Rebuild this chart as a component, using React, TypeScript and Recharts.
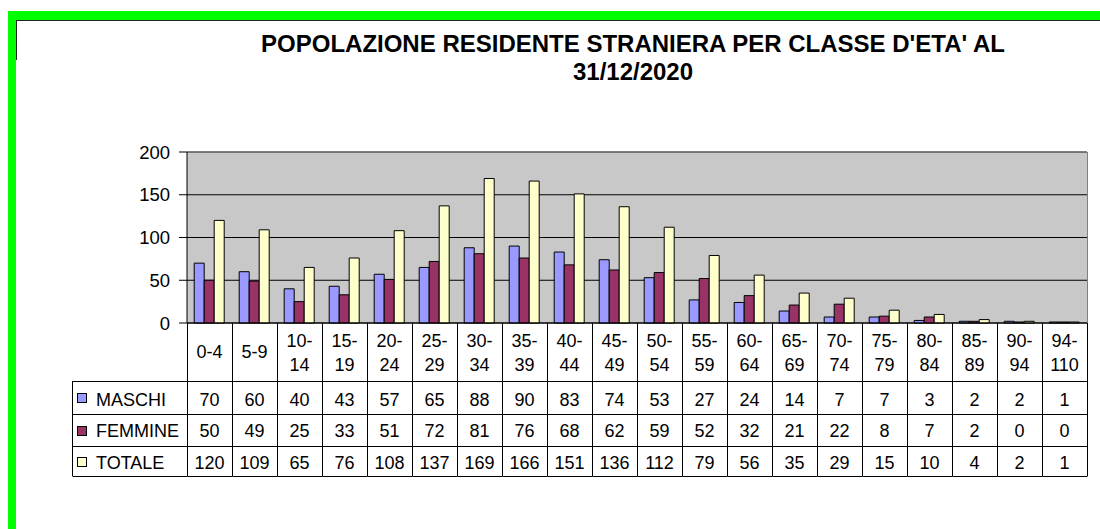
import React from 'react';
import { BarChart, Bar, XAxis, YAxis, CartesianGrid, ReferenceLine } from 'recharts';

// ---- data ----
const categories = ['0-4', '5-9', '10-14', '15-19', '20-24', '25-29', '30-34', '35-39', '40-44', '45-49', '50-54', '55-59', '60-64', '65-69', '70-74', '75-79', '80-84', '85-89', '90-94', '94-110'];
const maschi = [70, 60, 40, 43, 57, 65, 88, 90, 83, 74, 53, 27, 24, 14, 7, 7, 3, 2, 2, 1];
const femmine = [50, 49, 25, 33, 51, 72, 81, 76, 68, 62, 59, 52, 32, 21, 22, 8, 7, 2, 0, 0];
const totale = [120, 109, 65, 76, 108, 137, 169, 166, 151, 136, 112, 79, 56, 35, 29, 15, 10, 4, 2, 1];
const seriesNames = ['MASCHI', 'FEMMINE', 'TOTALE'];
const seriesValues = [maschi, femmine, totale];
const seriesColors = ['#9999FF', '#993366', '#FFFFCC'];
const yTicks = [0, 50, 100, 150, 200];
const titleLines = ["POPOLAZIONE RESIDENTE STRANIERA PER CLASSE D'ETA' AL", '31/12/2020'];

const data = categories.map((c, i) => ({
  cat: c,
  MASCHI: maschi[i],
  FEMMINE: femmine[i],
  TOTALE: totale[i],
}));

// ---- layout ----
const FONT = '"Liberation Sans", Arial, Helvetica, sans-serif';
const W = 1100;
const H = 529;
const PLOT_LEFT = 187;
const PLOT_RIGHT = 1087;
const PLOT_TOP = 152;
const PLOT_BOTTOM = 323;
const TABLE_LEFT = 72;
const ROW_BOTTOMS = [58, 91, 123, 153]; // relative to table top
const ROW_BASELINES = [83, 114, 146];
const TABLE_H = 153;
const Y_AXIS_W = 60;
const bandW = (PLOT_RIGHT - PLOT_LEFT) / categories.length;
const LINE = '#000';
const TXT = 18;

function TableTick(props: any) {
  const { x, y, payload } = props;
  const index: number = props.index ?? payload.index ?? 0;
  const left = Math.round(x - bandW / 2) + 0.5;
  const right = Math.round(x + bandW / 2) + 0.5;
  const label = String(payload.value);
  let lines: string[] = [label];
  if (label.length > 3) {
    const p = label.indexOf('-');
    lines = [label.slice(0, p + 1), label.slice(p + 1)];
  }
  const top = Math.round(y);
  const els: React.ReactNode[] = [];
  els.push(<line key="vr" x1={right} x2={right} y1={top} y2={top + TABLE_H} stroke={LINE} strokeWidth={1} />);
  if (index === 0) {
    els.push(<line key="vl" x1={left} x2={left} y1={top} y2={top + TABLE_H} stroke={LINE} strokeWidth={1} />);
    const lx = TABLE_LEFT + 0.5;
    els.push(<line key="ll" x1={lx} x2={lx} y1={top + ROW_BOTTOMS[0]} y2={top + TABLE_H} stroke={LINE} strokeWidth={1} />);
    ROW_BOTTOMS.forEach((rb, k) => {
      els.push(<line key={'lh' + k} x1={lx} x2={left} y1={top + rb + 0.5} y2={top + rb + 0.5} stroke={LINE} strokeWidth={1} />);
    });
    seriesNames.forEach((n, k) => {
      const rowTop = top + ROW_BOTTOMS[k];
      const rowBot = top + ROW_BOTTOMS[k + 1];
      const cy = (rowTop + rowBot) / 2;
      els.push(<rect key={'sq' + k} x={77.5} y={Math.round(cy - 4.5) + 0.5} width={9} height={9} fill={seriesColors[k]} stroke="#000" strokeWidth={1} />);
      els.push(
        <text key={'ln' + k} x={96} y={top + ROW_BASELINES[k]} fontSize={TXT} fontFamily={FONT} fill="#000">
          {n}
        </text>
      );
    });
  }
  if (index === categories.length - 1) {
    els.push(<line key="pr" x1={right} x2={right} y1={PLOT_TOP} y2={top} stroke="#808080" strokeWidth={1} />);
  }
  ROW_BOTTOMS.forEach((rb, k) => {
    els.push(<line key={'h' + k} x1={left} x2={right} y1={top + rb + 0.5} y2={top + rb + 0.5} stroke={LINE} strokeWidth={1} />);
  });
  if (lines.length === 1) {
    els.push(
      <text key="c0" x={x} y={top + 35} textAnchor="middle" fontSize={TXT} fontFamily={FONT} fill="#000">
        {lines[0]}
      </text>
    );
  } else {
    lines.forEach((t, k) => {
      els.push(
        <text key={'c' + k} x={x} y={top + 24 + k * 24} textAnchor="middle" fontSize={TXT} fontFamily={FONT} fill="#000">
          {t}
        </text>
      );
    });
  }
  seriesValues.forEach((vals, k) => {
    els.push(
      <text key={'v' + k} x={x} y={top + ROW_BASELINES[k]} textAnchor="middle" fontSize={TXT} fontFamily={FONT} fill="#000">
        {vals[index]}
      </text>
    );
  });
  return <g>{els}</g>;
}

export default function App() {
  return (
    <div style={{ position: 'relative', width: W, height: H, overflow: 'hidden', background: '#fff', fontFamily: FONT }}>
      <style>{`body{margin:0;overflow:hidden;}`}</style>
      <div style={{ position: 'absolute', left: 8, top: 11, width: W - 8, height: 9, background: '#00FF00' }} />
      <div style={{ position: 'absolute', left: 8, top: 11, width: 8, height: H - 11, background: '#00FF00' }} />
      <div style={{ position: 'absolute', left: 16, top: 20, width: W - 16, height: 1, background: '#222' }} />
      <div style={{ position: 'absolute', left: 16, top: 20, width: 1, height: 40, background: '#222' }} />
      <div
        style={{
          position: 'absolute',
          left: 233,
          top: 30,
          width: 800,
          textAlign: 'center',
          fontWeight: 'bold',
          fontSize: 24,
          lineHeight: '28px',
          color: '#000',
          fontFamily: FONT,
          whiteSpace: 'nowrap',
        }}
      >
        {titleLines.map((t, i) => (
          <div key={i}>{t}</div>
        ))}
      </div>
      <div style={{ position: 'absolute', left: 0, top: 0 }}>
        <BarChart
          width={W}
          height={H}
          data={data}
          margin={{ top: PLOT_TOP, right: W - PLOT_RIGHT, left: PLOT_LEFT - Y_AXIS_W, bottom: H - PLOT_BOTTOM - TABLE_H }}
          barCategoryGap="16%"
          barGap={0}
        >
          <CartesianGrid vertical={false} stroke="#000" fill="#C8C8C8" fillOpacity={1} />
          <ReferenceLine y={200} stroke="#808080" />
          <YAxis
            width={Y_AXIS_W}
            domain={[0, 200]}
            ticks={yTicks}
            interval={0}
            tickSize={8}
            tickMargin={9}
            axisLine={{ stroke: '#000' }}
            tickLine={{ stroke: '#000' }}
            tick={{ fontSize: 18.5, fill: '#000', fontFamily: FONT }}
          />
          <XAxis
            dataKey="cat"
            height={TABLE_H}
            interval={0}
            tickSize={0}
            tickMargin={0}
            tickLine={false}
            axisLine={{ stroke: '#000' }}
            tick={(p: any) => <TableTick {...p} />}
          />
          {seriesNames.map((n, k) => (
            <Bar key={n} dataKey={n} fill={seriesColors[k]} stroke="#000" strokeWidth={1} minPointSize={1} isAnimationActive={false} />
          ))}
        </BarChart>
      </div>
    </div>
  );
}
